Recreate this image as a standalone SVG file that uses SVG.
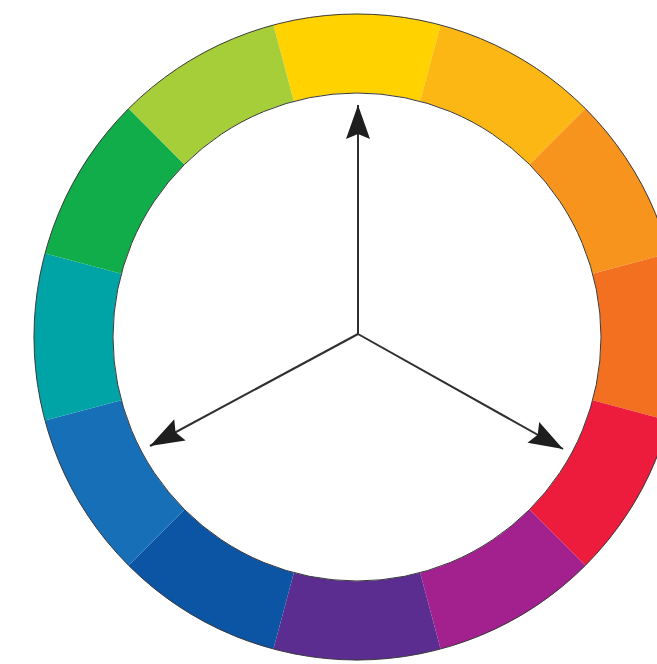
<svg xmlns="http://www.w3.org/2000/svg" width="657" height="664" viewBox="0 0 657 664">
<style>
.seg{stroke:none}
.rim{fill:none;stroke:#3a3a3a;stroke-width:1}
.arrow{stroke:#2f2f2f;stroke-width:2;fill:none}
</style>
<defs>
<marker id="head" markerUnits="userSpaceOnUse" markerWidth="40" markerHeight="30" viewBox="-36 -15 40 30" refX="0" refY="0" orient="auto">
<path d="M0,0 L-34,-12 L-29,0 L-34,12 Z" fill="#1e1e1e"/>
</marker>
</defs>
<rect width="657" height="664" fill="#ffffff"/>
<g id="wheel">
<path id="seg-yellow" class="seg" fill="#FFD200" d="M273.41,25.01 A323,323 0 0 1 440.59,25.01 L420.15,101.32 A244,244 0 0 0 293.85,101.32 Z"/>
<path id="seg-yellow-orange" class="seg" fill="#FDB714" d="M440.59,25.01 A323,323 0 0 1 585.39,108.61 L529.53,164.47 A244,244 0 0 0 420.15,101.32 Z"/>
<path id="seg-orange" class="seg" fill="#F7941E" d="M585.39,108.61 A323,323 0 0 1 668.99,253.41 L592.68,273.85 A244,244 0 0 0 529.53,164.47 Z"/>
<path id="seg-red-orange" class="seg" fill="#F37021" d="M668.99,253.41 A323,323 0 0 1 668.99,420.59 L592.68,400.15 A244,244 0 0 0 592.68,273.85 Z"/>
<path id="seg-red" class="seg" fill="#ED1C3C" d="M668.99,420.59 A323,323 0 0 1 585.39,565.39 L529.53,509.53 A244,244 0 0 0 592.68,400.15 Z"/>
<path id="seg-red-violet" class="seg" fill="#A3218E" d="M585.39,565.39 A323,323 0 0 1 440.59,648.99 L420.15,572.68 A244,244 0 0 0 529.53,509.53 Z"/>
<path id="seg-violet" class="seg" fill="#5C2D91" d="M440.59,648.99 A323,323 0 0 1 273.41,648.99 L293.85,572.68 A244,244 0 0 0 420.15,572.68 Z"/>
<path id="seg-blue-violet" class="seg" fill="#0C55A5" d="M273.41,648.99 A323,323 0 0 1 128.61,565.39 L184.47,509.53 A244,244 0 0 0 293.85,572.68 Z"/>
<path id="seg-blue" class="seg" fill="#176FB8" d="M128.61,565.39 A323,323 0 0 1 45.01,420.59 L121.32,400.15 A244,244 0 0 0 184.47,509.53 Z"/>
<path id="seg-blue-green" class="seg" fill="#00A4A6" d="M45.01,420.59 A323,323 0 0 1 45.01,253.41 L121.32,273.85 A244,244 0 0 0 121.32,400.15 Z"/>
<path id="seg-green" class="seg" fill="#11AD4B" d="M45.01,253.41 A323,323 0 0 1 128.61,108.61 L184.47,164.47 A244,244 0 0 0 121.32,273.85 Z"/>
<path id="seg-yellow-green" class="seg" fill="#A6CE39" d="M128.61,108.61 A323,323 0 0 1 273.41,25.01 L293.85,101.32 A244,244 0 0 0 184.47,164.47 Z"/>
<circle class="rim" cx="357" cy="337" r="323"/>
<circle class="rim" cx="357" cy="337" r="244"/>
</g>
<g id="connectors">
<line class="arrow" x1="358" y1="334" x2="358" y2="105" marker-end="url(#head)"/>
<line class="arrow" x1="358" y1="334" x2="150" y2="446" marker-end="url(#head)"/>
<line class="arrow" x1="358" y1="334" x2="563" y2="449" marker-end="url(#head)"/>
</g>
</svg>
